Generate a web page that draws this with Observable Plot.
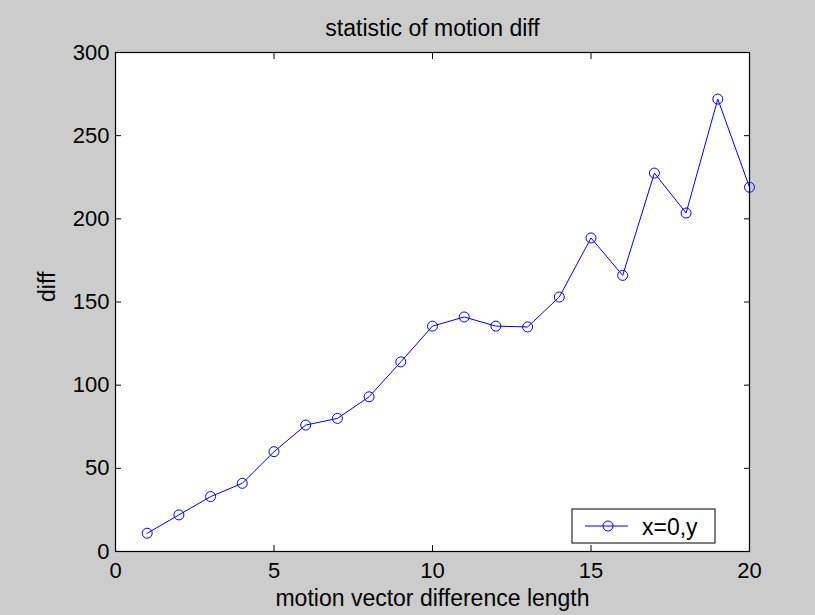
<!DOCTYPE html>
<html>
<head>
<meta charset="utf-8">
<script src="https://cdn.jsdelivr.net/npm/d3@7"></script>
<script src="https://cdn.jsdelivr.net/npm/@observablehq/plot@0.6"></script>
<style>
  html, body { margin: 0; padding: 0; background: #cccccc; }
  #chart svg { display: block; }
</style>
</head>
<body>
<div id="chart"></div>
<script>
// Motion vector difference length vs. accumulated diff
const lengths = [1, 2, 3, 4, 5, 6, 7, 8, 9, 10, 11, 12, 13, 14, 15, 16, 17, 18, 19, 20];
const diffs = [11, 22, 33, 41, 60, 76, 80, 93, 114, 135.5, 141, 135.5, 135, 153, 188.5, 166, 227.5, 203.5, 272, 219];
const xTicks = [0, 5, 10, 15, 20];
const yTicks = [0, 50, 100, 150, 200, 250, 300];
const seriesName = "x=0,y";
const titleText = "statistic of motion diff";
const xLabel = "motion vector difference length";
const yLabel = "diff";

const font = "'Liberation Sans', Arial, Helvetica, sans-serif";
const W = 815, H = 615;
const mL = 115, mR = 66, mT = 52, mB = 64;
const blue = "#0000ff";

const points = lengths.map((x, i) => ({x, y: diffs[i]}));
const blank = () => "";

const chart = Plot.plot({
  width: W,
  height: H,
  marginLeft: mL,
  marginRight: mR,
  marginTop: mT,
  marginBottom: mB,
  style: {background: "#cccccc", fontFamily: font, fontSize: "22px", color: "#000", overflow: "visible"},
  x: {domain: [0, 20]},
  y: {domain: [0, 300]},
  marks: [
    Plot.frame({fill: "white"}),
    // inward ticks on all four sides, labels only bottom/left
    Plot.axisX(xTicks, {anchor: "bottom", tickSize: -6, tickPadding: 17, label: null, fontSize: 22, stroke: "black"}),
    Plot.axisX(xTicks, {anchor: "top", tickSize: -6, tickFormat: blank, label: null, stroke: "black"}),
    Plot.axisY(yTicks, {anchor: "left", tickSize: -6, tickPadding: 12, label: null, fontSize: 22, stroke: "black"}),
    Plot.axisY(yTicks, {anchor: "right", tickSize: -6, tickFormat: blank, label: null, stroke: "black"}),
    Plot.line(points, {x: "x", y: "y", stroke: blue, strokeWidth: 1}),
    Plot.dot(points, {x: "x", y: "y", r: 5, stroke: blue, fill: "none", strokeWidth: 1}),
    Plot.frame({stroke: "black", strokeWidth: 1.2}),
    Plot.text([titleText], {frameAnchor: "top", dy: -17, lineAnchor: "bottom", fontSize: 23, fill: "black"}),
    Plot.text([xLabel], {frameAnchor: "bottom", dy: 54, lineAnchor: "bottom", fontSize: 23, fill: "black"}),
    Plot.text([yLabel], {frameAnchor: "left", dx: -68, rotate: -90, lineAnchor: "middle", fontSize: 23, fill: "black"})
  ]
});

document.getElementById("chart").append(chart);

// legend box in the lower-right corner of the axes
const svg = d3.select(chart.tagName.toLowerCase() === "svg" ? chart : chart.querySelector("svg"));
const fx1 = W - mR, fy1 = H - mB;
const lg = svg.append("g").attr("font-family", font);
const bx = fx1 - 177, by = fy1 - 42, bw = 143, bh = 34;
lg.append("rect").attr("x", bx).attr("y", by).attr("width", bw).attr("height", bh)
  .attr("fill", "white").attr("stroke", "black").attr("stroke-width", 1);
lg.append("line").attr("x1", bx + 13).attr("x2", bx + 56).attr("y1", by + bh / 2).attr("y2", by + bh / 2)
  .attr("stroke", blue).attr("stroke-width", 1);
lg.append("circle").attr("cx", bx + 36).attr("cy", by + bh / 2).attr("r", 5)
  .attr("fill", "none").attr("stroke", blue).attr("stroke-width", 1);
lg.append("text").attr("x", bx + 70).attr("y", by + bh / 2 + 8.5).attr("font-size", 23)
  .attr("text-anchor", "start").attr("fill", "black")
  .text(seriesName);
</script>
</body>
</html>
